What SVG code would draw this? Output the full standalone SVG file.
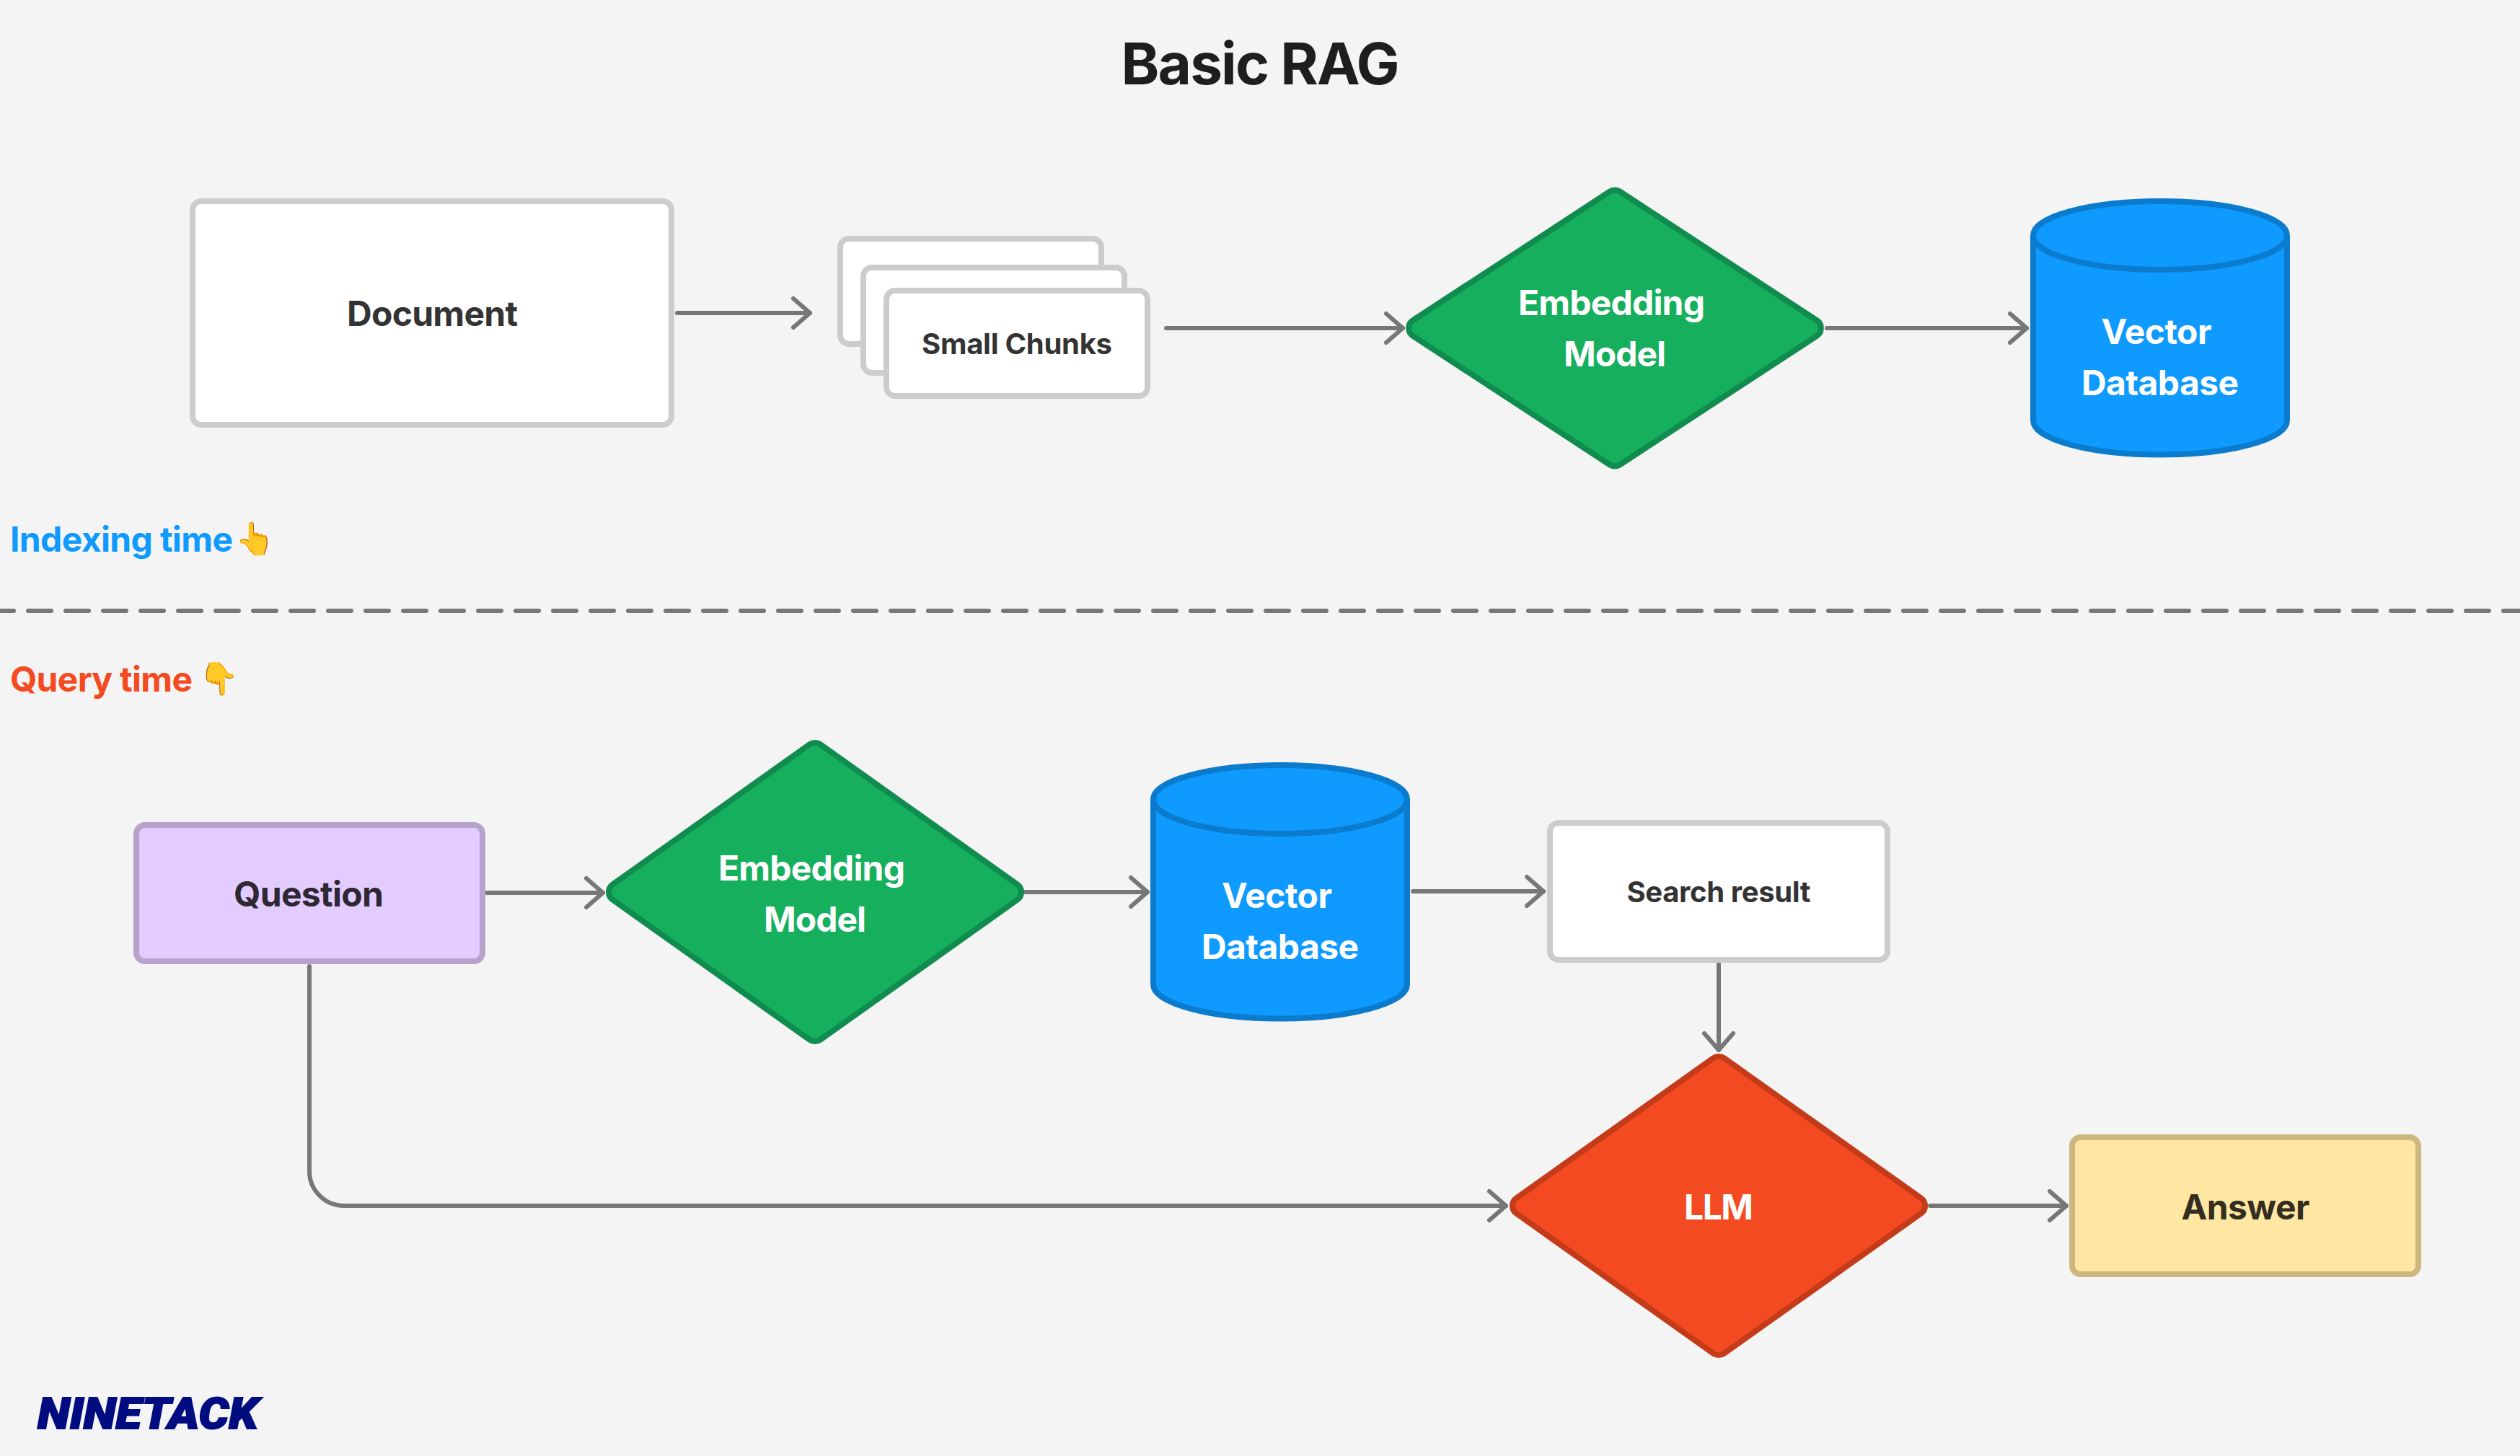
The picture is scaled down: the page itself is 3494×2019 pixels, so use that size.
<svg xmlns="http://www.w3.org/2000/svg" width="3494" height="2019" viewBox="0 0 3494 2019">
<style>
text{font-family:Inter,"Liberation Sans",sans-serif;font-weight:700;font-size:48px;text-anchor:middle}
.w{fill:#fff}.d{fill:#333}.s{font-size:40px}
.e{font-family:'Noto Color Emoji','DejaVu Sans',sans-serif;font-size:44px}
.box{fill:#fff;stroke:#ccc;stroke-width:8}
.green{fill:#16AF5E;stroke:#108C4E;stroke-width:8}
.db{fill:#0F9AFF;stroke:#0A7BCD;stroke-width:8}
.c{fill:none;stroke:#777;stroke-width:6;stroke-linecap:round;marker-end:url(#h)}
</style>
<defs>
<marker id="h" markerUnits="userSpaceOnUse" markerWidth="60" markerHeight="60" refX="30" refY="30" orient="auto" viewBox="0 0 60 60"><path d="M7 10 30 30 7 50" fill="none" stroke="#777" stroke-width="6" stroke-linecap="round" stroke-linejoin="round"/></marker>
<path id="da" d="M-279.9-10.9-7.1-189.3A13 13 0 0 1 7.1-189.3L279.9-10.9A13 13 0 0 1 279.9 10.9L7.1 189.3A13 13 0 0 1-7.1 189.3L-279.9 10.9A13 13 0 0 1-279.9-10.9Z"/>
<path id="db" d="M-280.6-10.6-7.5-204.7A13 13 0 0 1 7.5-204.7L280.6-10.6A13 13 0 0 1 280.6 10.6L7.5 204.7A13 13 0 0 1-7.5 204.7L-280.6 10.6A13 13 0 0 1-280.6-10.6Z"/>
<g id="cyl"><path d="M4 51.5V308A176 47.5 0 0 0 356 308V51.5" class="db"/><ellipse cx="180" cy="51.5" rx="176" ry="47.5" class="db"/></g>
</defs>
<rect width="3494" height="2019" fill="#F4F4F4"/>
<text id="title" x="1747.5" y="117" style="font-size:80px" fill="#1E1E1E" textLength="386">Basic RAG</text>
<g id="connectors">
<path class="c" d="M939 434H1123"/>
<path class="c" d="M1617 455H1945"/>
<path class="c" d="M2533 455H2810"/>
<path class="c" d="M675 1238H836"/>
<path class="c" d="M1421 1237H1591"/>
<path class="c" d="M1959 1236H2140"/>
<path class="c" d="M2383 1337V1456"/>
<path class="c" d="M429 1340V1624A48 48 0 0 0 477 1672H2088"/>
<path class="c" d="M2676 1672H2865"/>
<path d="M-13 847H3494" fill="none" stroke="#777" stroke-width="6" stroke-linecap="round" stroke-dasharray="32 20"/>
</g>
<g id="document"><rect class="box" x="267" y="279" width="664" height="310" rx="12"/><text class="d" x="599.5" y="452" textLength="237">Document</text></g>
<g id="chunks"><rect class="box" x="1165" y="331" width="362" height="146" rx="12"/><rect class="box" x="1197" y="371" width="362" height="146" rx="12"/><rect class="box" x="1229" y="403" width="362" height="146" rx="12"/><text class="d s" x="1410" y="491" textLength="264">Small Chunks</text></g>
<g id="embedding1"><use href="#da" x="2239" y="455" class="green"/><text class="w" x="2234.5" y="437" textLength="259">Embedding</text><text class="w" x="2239" y="508" textLength="142">Model</text></g>
<g id="vector1"><use href="#cyl" x="2815" y="275"/><text class="w" x="2990" y="477" textLength="153">Vector</text><text class="w" x="2995" y="548" textLength="218">Database</text></g>
<g id="labels">
<text x="14" y="765" fill="#0F9AFF" style="text-anchor:start" textLength="309">Indexing time</text><text x="353.5" y="762" class="e">👆</text>
<text x="14" y="959" fill="#F44A22" style="text-anchor:start" textLength="253">Query time</text><text x="303.5" y="956" class="e">👇</text>
</g>
<g id="question"><rect x="189" y="1144" width="480" height="189" rx="12" fill="#E3CCFF" stroke="#B5A3CC" stroke-width="8"/><text x="428" y="1257" fill="#2E2833" textLength="208">Question</text></g>
<g id="embedding2"><use href="#db" x="1130" y="1237" class="green"/><text class="w" x="1125.5" y="1221" textLength="259">Embedding</text><text class="w" x="1130" y="1292" textLength="142">Model</text></g>
<g id="vector2"><use href="#cyl" x="1595" y="1057"/><text class="w" x="1770.5" y="1259" textLength="153">Vector</text><text class="w" x="1775" y="1330" textLength="218">Database</text></g>
<g id="search"><rect class="box" x="2149" y="1141" width="468" height="190" rx="12"/><text class="d s" x="2383" y="1251" textLength="255">Search result</text></g>
<g id="llm"><use href="#db" x="2383" y="1672" fill="#F44A22" stroke="#C43B1A" stroke-width="8"/><text class="w" x="2383" y="1691" textLength="96">LLM</text></g>
<g id="answer"><rect x="2873" y="1577" width="480" height="190" rx="12" fill="#FFE6A2" stroke="#CCB87F" stroke-width="8"/><text x="3113.5" y="1691" fill="#332E20" textLength="178">Answer</text></g>
<text id="logo" x="52" y="1981" fill="#000C7F" stroke="#000C7F" stroke-width="2" textLength="306" lengthAdjust="spacingAndGlyphs" style="font-family:Roboto,sans-serif;font-weight:900;font-style:italic;font-size:61px;text-anchor:start">NINETACK</text>
</svg>
